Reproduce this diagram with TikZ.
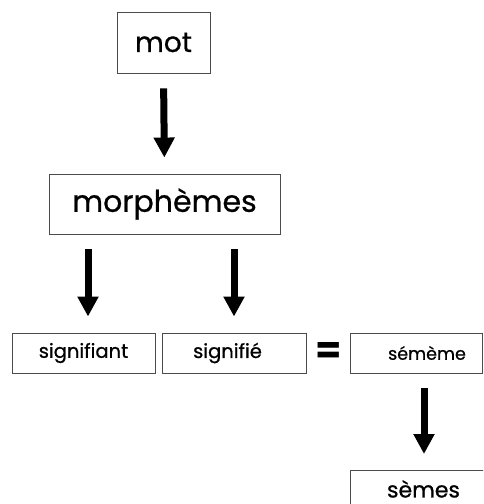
\documentclass[tikz,border=0pt]{standalone}
\usepackage{fontspec}
\setmainfont{Poppins}[UprightFeatures={FakeBold=0.8}]
\usetikzlibrary{positioning,calc,arrows.meta}

\begin{document}
\begin{tikzpicture}[x=1pt,y=-1pt,
		box/.style={draw=black!70,line width=0.9pt,inner sep=0pt},
		bigarrow/.style={line width=7pt,-{Triangle[width=20pt,length=20pt]},shorten <=15pt,shorten >=16pt}]
		\useasboundingbox (0,0) rectangle (483,504);
		\clip (0,0) rectangle (483,504);
		\node[box,minimum width=93pt,minimum height=61pt,font=\fontsize{28}{30}\selectfont] (mot) at (163.5,42.5) {mot};
		\node[box,minimum width=231pt,minimum height=60pt,font=\fontsize{30}{32}\selectfont] (morph) at (164.5,204) {morphèmes};
		\node[box,minimum width=143pt,minimum height=40pt,font=\fontsize{19.5}{21}\selectfont] (sa) at (83.5,353) {signifiant};
		\node[box,minimum width=144pt,minimum height=40pt,font=\fontsize{19.5}{21}\selectfont] (se) at (234,353) {signifié\hspace*{13pt}};
		\node[font=\bfseries\fontsize{38}{40}\selectfont,inner sep=0pt] (eq) at (329,353) {=};
		\node[box,minimum width=132pt,minimum height=40pt,font=\fontsize{17.5}{19}\selectfont] (seme) at (416,353) {\hspace*{22pt}sémème};
		\node[box,minimum width=140pt,text height=27pt,text depth=20pt,anchor=north,font=\fontsize{22}{24}\selectfont] (semes) at (420,470) {\hspace*{7pt}sèmes};
		
		\draw[bigarrow] (mot.south)--(morph.north);
		\draw[bigarrow] ([xshift=4.5pt]sa.north |- morph.south)--([xshift=4.5pt]sa.north);
		\draw[bigarrow] (se.north |- morph.south)--(se.north);
		\draw[bigarrow] ([xshift=8pt]seme.south)--([xshift=4pt]semes.north);
	\end{tikzpicture}
\end{document}
